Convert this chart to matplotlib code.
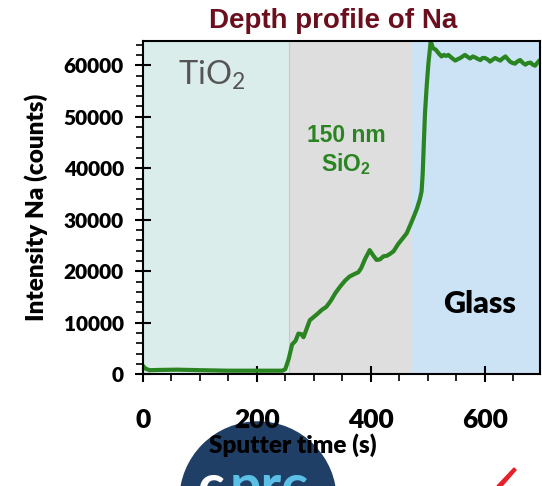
import numpy as np
import matplotlib
matplotlib.use('Agg')
import matplotlib.pyplot as plt
from matplotlib.patches import Ellipse, Polygon
from matplotlib.ticker import MultipleLocator

# sputter time (s) and Na counts
time_s = [0, 5, 12, 30, 60, 100, 150, 200, 245, 250, 256, 262, 268, 273, 278,
          282, 287, 293, 305, 314, 322, 330, 338, 346, 355, 363, 372, 378, 383,
          390, 398, 404, 410, 416, 422, 428, 434, 440, 448, 456, 463, 470, 476,
          481, 486, 489, 491, 493, 495, 498, 501, 505, 509, 514, 519, 524, 528,
          532, 536, 541, 548, 553, 557, 561, 565, 570, 574, 579, 583, 588, 592,
          596, 600, 605, 609, 614, 618, 623, 627, 631, 636, 640, 644, 649, 653,
          658, 662, 666, 671, 675, 680, 684, 688, 693, 698, 700]
na_counts = [1700, 1100, 800, 850, 900, 800, 700, 700, 700, 1000, 3000, 5800,
             6500, 7900, 7800, 7200, 8700, 10500, 11600, 12500, 13100, 14300,
             15800, 17000, 18200, 19000, 19500, 19800, 20600, 22400, 24100,
             23100, 22200, 22300, 22900, 23000, 23400, 23900, 25300, 26400,
             27400, 29200, 30800, 32200, 34000, 35500, 39000, 45000, 50700,
             56000, 60400, 64600, 63300, 63000, 62300, 61700, 62000, 61800,
             62000, 61500, 60900, 61200, 61400, 61700, 62000, 61600, 61300,
             61700, 61500, 61200, 61000, 61400, 61400, 61100, 60700, 61100,
             61400, 61100, 60900, 61300, 61700, 61200, 60700, 60400, 60300,
             60800, 61000, 60500, 60100, 60400, 60500, 60100, 59900, 60600,
             61200, 61200]

# layer boundaries (s)
layer_edges = [0, 256, 470, 700]
layer_colors = ['#daedea', '#dedede', '#cce2f5']

fig = plt.figure(figsize=(5.42, 4.86), dpi=100)

# logo decoration at the bottom of the slide
fig.add_artist(Ellipse((258/542, 1 - 500/486), 156/542, 156/486,
                       transform=fig.transFigure, color='#1f3f66', zorder=0))
fig.text(197/542, 1 - 504/486, 'c', color='white', fontsize=40,
         fontweight='bold', family='Lato', va='baseline', zorder=1)
fig.text(230/542, 1 - 504/486, 'prc', color='#5cc0e6', fontsize=40,
         fontweight='bold', family='Lato', va='baseline', zorder=1)
fig.add_artist(Polygon([(497/542, 1 - 486/486), (514/542, 1 - 468/486),
                        (516/542, 1 - 470/486), (502/542, 1 - 486/486)],
                       closed=True, transform=fig.transFigure,
                       color='#e8202a', zorder=0))

ax = fig.add_axes([142.7/542, 1 - 374.3/486, 397.5/542, (374.3 - 41.5)/486])
ax.set_zorder(2)

for i in range(3):
    ax.axvspan(layer_edges[i], layer_edges[i+1], color=layer_colors[i], lw=0)
ax.axvline(256, color='#c8c8c8', lw=0.8)

ax.plot(time_s, na_counts, color='#2a8421', lw=3, solid_joinstyle='round')

ax.set_xlim(0, 697)
ax.set_ylim(0, 64600)
ax.xaxis.set_major_locator(MultipleLocator(200))
ax.xaxis.set_minor_locator(MultipleLocator(50))
ax.yaxis.set_major_locator(MultipleLocator(10000))
ax.yaxis.set_minor_locator(MultipleLocator(2000))
ax.tick_params(which='major', direction='inout', length=11, width=1.5)
ax.tick_params(which='minor', direction='out', length=5, width=1.2)
ax.tick_params(axis='x', which='major', pad=19)
ax.tick_params(axis='y', which='major', pad=8)
for sp in ax.spines.values():
    sp.set_linewidth(1.5)

for lab in ax.get_xticklabels():
    lab.set_fontfamily('Lato')
    lab.set_fontweight('heavy')
    lab.set_fontsize(19)
for lab in ax.get_yticklabels():
    lab.set_fontfamily('Lato')
    lab.set_fontweight('heavy')
    lab.set_fontsize(15)

fig.text(36/542, 1 - 207/486, 'Intensity Na (counts)', fontsize=17.5,
         fontweight='heavy', family='Lato', rotation=90, ha='center',
         va='center')
fig.text(293/542, 1 - 445/486, 'Sputter time (s)', fontsize=17.5,
         fontweight='heavy', family='Lato', ha='center', va='center', zorder=3)

fig.text(333.6/542, 1 - 20.7/486, 'Depth profile of Na', color='#6b0f1f',
         fontsize=20, fontweight='bold', family='Liberation Sans',
         ha='center', va='center')

ax.text(62, 56300, 'TiO$_\\mathregular{2}$', color='#555555', fontsize=23.5,
        family='Lato', ha='left', va='baseline')
ax.text(357, 43500, '150 nm\nSiO$_\\mathregular{2}$', color='#2a8421',
        fontsize=16.5, fontweight='bold', family='Liberation Sans',
        ha='center', va='center', linespacing=1.2)
ax.text(590, 13600, 'Glass', color='black', fontsize=22, fontweight='heavy',
        family='Lato', ha='center', va='center')

fig.savefig('out.png', dpi=100)
